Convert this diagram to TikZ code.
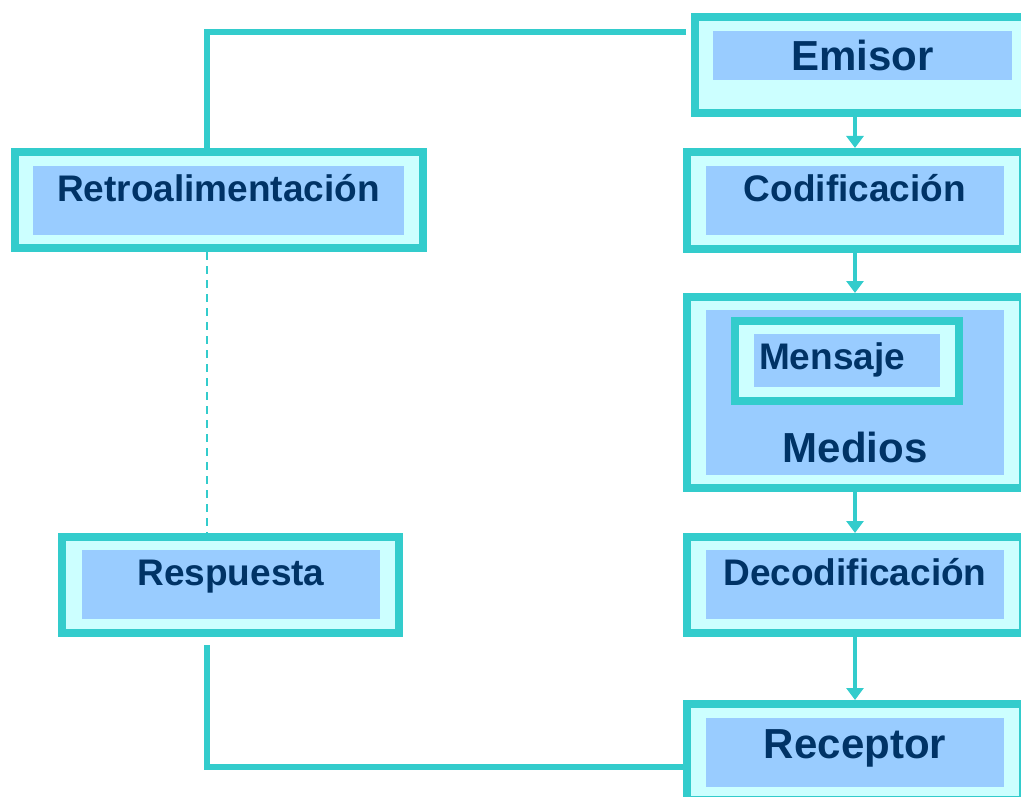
\documentclass[tikz,border=0pt]{standalone}
\usepackage{fontspec}
\setmainfont{Liberation Sans}
\usetikzlibrary{arrows.meta}
\definecolor{marco}{HTML}{33CCCC}
\definecolor{fondo}{HTML}{CCFFFF}
\definecolor{azulpanel}{HTML}{99CCFF}
\definecolor{tinta}{HTML}{003366}

\begin{document}
\begin{tikzpicture}[x=1pt, y=-1pt,
  caja/.style={draw=marco, fill=fondo, line width=8pt, inner sep=0pt},
  panelazul/.style={fill=azulpanel, inner sep=0pt, text=tinta,
    font=\bfseries\fontsize{37}{44}\selectfont, text height=26.5pt, text depth=24pt},
  grande/.style={font=\bfseries\fontsize{42}{50}\selectfont},
  enlace/.style={draw=marco, line width=5.5pt},
  flecha/.style={draw=marco, line width=4pt, -{Triangle[width=17pt,length=12pt]}}]
  \useasboundingbox (0,0) rectangle (1021,797);
  \clip (0,0) rectangle (1021,797);

  % columna derecha
  \node[caja, minimum width=335pt, minimum height=96pt] (emisor) at (862.5,65) {};
  \node[panelazul, grande, minimum width=299pt, minimum height=49pt,
        text height=30pt, text depth=0pt] (emisor-p) at (862.5,55.5) {Emisor};

  \node[caja, minimum width=336pt, minimum height=97pt] (codif) at (855,200.5) {};
  \node[panelazul, minimum width=298pt, minimum height=69pt] (codif-p) at (855,200.5) {Codificación};

  \node[caja, minimum width=336pt, minimum height=191pt] (medios) at (855,392.5) {};
  \node[panelazul, minimum width=298pt, minimum height=165pt] (medios-p) at (855,392.5) {};
  \node[caja, minimum width=224pt, minimum height=80pt] (mensaje) at (847,361) {};
  \node[panelazul, minimum width=186pt, minimum height=53pt, text width=176pt,
        inner xsep=5pt, align=left, text depth=8pt] (mensaje-p) at (847,360.5) {Mensaje};
  \node[text=tinta, grande, anchor=base] (medios-t) at (855,462) {Medios};

  \node[caja, minimum width=336pt, minimum height=96pt] (decod) at (855,585) {};
  \node[panelazul, minimum width=298pt, minimum height=69pt] (decod-p) at (855,584.5) {Decodificación};

  \node[caja, minimum width=336pt, minimum height=96pt] (receptor) at (855,752) {};
  \node[panelazul, grande, minimum width=298pt, minimum height=69pt,
        text height=30pt, text depth=19pt] (receptor-p) at (855,752.5) {Receptor};

  % columna izquierda
  \node[caja, minimum width=408pt, minimum height=96pt] (retro) at (219,200) {};
  \node[panelazul, minimum width=371pt, minimum height=69pt] (retro-p) at (218.5,200.5) {Retroalimentación};

  \node[caja, minimum width=337pt, minimum height=96pt] (resp) at (230.5,585) {};
  \node[panelazul, minimum width=298pt, minimum height=69pt] (resp-p) at (231,584.5) {Respuesta};

  % flechas del proceso
  \draw[flecha] (emisor.south -| codif.north) -- (codif.north);
  \draw[flecha] (codif.south) -- (medios.north);
  \draw[flecha] (medios.south) -- (decod.north);
  \draw[flecha] (decod.south) -- (receptor.north);

  % lazo de retroalimentación
  \draw[enlace] ([xshift=-5pt, yshift=-19pt]emisor.north west) -| ([xshift=-12pt]retro.north);
  \draw[draw=marco, line width=1.5pt, dash pattern=on 8pt off 6pt]
    ([xshift=-12pt]retro.south) -- ([xshift=-12pt]retro.south |- resp.north);
  \draw[enlace] ([xshift=-23.5pt, yshift=-8pt]resp.south) |- ([yshift=-15pt]receptor.west);
\end{tikzpicture}
\end{document}
